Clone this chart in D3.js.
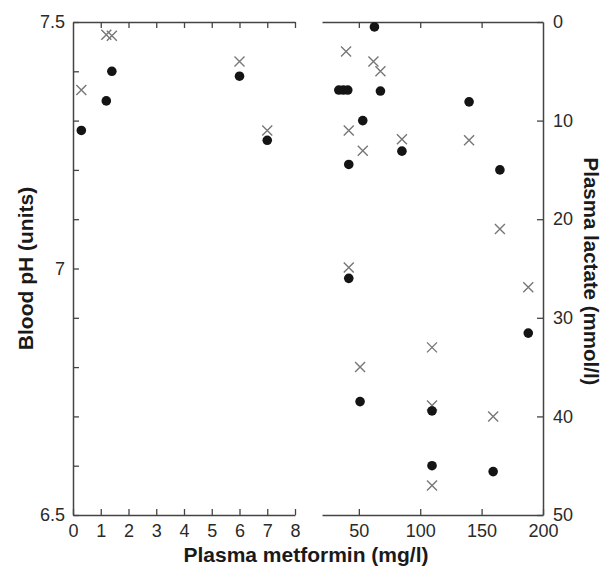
<!DOCTYPE html>
<html>
<head>
<meta charset="utf-8">
<script src="https://cdn.jsdelivr.net/npm/d3@7"></script>
<style>
  body { margin: 0; background: #fff; }
  svg { display: block; }
</style>
</head>
<body>
<script>
// left panel: low metformin (0-8 mg/l)
var leftMet = [0.3, 1.2, 1.4, 6.0, 7.0];
var leftPh = [7.28, 7.34, 7.40, 7.39, 7.26];
var leftLac = [6.9, 1.3, 1.4, 4.0, 11.0];

// right panel: high metformin (20-200 mg/l)
var rightMetPh = [62.7, 33.7, 37.4, 41.0, 67.6, 139.8, 53.2, 85.1, 41.8, 164.9, 41.8, 188, 51.0, 109.6, 109.6, 159.4];
var rightPh = [7.49, 7.362, 7.362, 7.362, 7.36, 7.338, 7.30, 7.238, 7.211, 7.20, 6.98, 6.869, 6.73, 6.711, 6.60, 6.588];
var rightMetLac = [39.6, 61.9, 67.6, 41.8, 85.1, 139.8, 53.2, 164.9, 41.8, 188, 109.6, 51.0, 109.6, 159.4, 109.6];
var rightLac = [3.0, 4.0, 5.0, 11.0, 11.9, 12.0, 13.05, 21.0, 24.9, 26.9, 33.0, 35.0, 38.9, 40.0, 47.0];

var leftTicks = [0, 1, 2, 3, 4, 5, 6, 7, 8];
var rightTicks = [50, 100, 150, 200];
var phTicks = d3.range(0, 11).map(function(i) { return 6.5 + i * 0.1; });
var lacTicks = [0, 10, 20, 30, 40, 50];

var width = 602, height = 566;
var yTop = 22, yBottom = 515;

var svg = d3.select("body").append("svg")
  .attr("width", width)
  .attr("height", height);

var xL = d3.scaleLinear().domain([0, 8]).range([73, 295]);
var xR = d3.scaleLinear().domain([20, 200]).range([322, 543]);
var yPh = d3.scaleLinear().domain([6.5, 7.5]).range([yBottom, yTop]);
var yLac = d3.scaleLinear().domain([0, 50]).range([yTop, yBottom]);

function styleAxis(g) {
  g.attr("font-family", "'Liberation Sans', Arial, sans-serif")
    .attr("font-size", 18);
  g.selectAll(".domain").attr("stroke", "#444").attr("stroke-width", 1.5);
  g.selectAll(".tick line").attr("stroke", "#444").attr("stroke-width", 1.3);
  g.selectAll(".tick text").attr("fill", "#2a2a2a");
}

function phLabel(d) {
  var r = Math.round(d * 10) / 10;
  if (r === 7) return "7";
  if (r === 6.5 || r === 7.5) return r.toFixed(1);
  return "";
}

// left panel axes
svg.append("g")
  .attr("transform", "translate(" + xL(0) + ",0)")
  .call(d3.axisLeft(yPh).tickValues(phTicks).tickFormat(phLabel)
    .tickSizeInner(-6).tickSizeOuter(0).tickPadding(8))
  .call(styleAxis);

svg.append("g")
  .attr("transform", "translate(0," + yBottom + ")")
  .call(d3.axisBottom(xL).tickValues(leftTicks).tickFormat(d3.format("d"))
    .tickSizeInner(-6).tickSizeOuter(0).tickPadding(9))
  .call(styleAxis);

svg.append("g")
  .attr("transform", "translate(0," + yTop + ")")
  .call(d3.axisTop(xL).tickValues(leftTicks.slice(1)).tickFormat("")
    .tickSizeInner(-6).tickSizeOuter(0))
  .call(styleAxis);

// right panel axes
svg.append("g")
  .attr("transform", "translate(" + xR(200) + ",0)")
  .call(d3.axisRight(yLac).tickValues(lacTicks).tickFormat(d3.format("d"))
    .tickSizeInner(-6).tickSizeOuter(0).tickPadding(10))
  .call(styleAxis);

svg.append("g")
  .attr("transform", "translate(0," + yBottom + ")")
  .call(d3.axisBottom(xR).tickValues(rightTicks).tickFormat(d3.format("d"))
    .tickSizeInner(-6).tickSizeOuter(0).tickPadding(9))
  .call(styleAxis);

svg.append("g")
  .attr("transform", "translate(0," + yTop + ")")
  .call(d3.axisTop(xR).tickValues(rightTicks.slice(0, 3)).tickFormat("")
    .tickSizeInner(-6).tickSizeOuter(0))
  .call(styleAxis);

// crosses = plasma lactate (right axis), dots = blood pH (left axis)
function drawCrosses(xs, ys, xScale) {
  var s = 5;
  var g = svg.append("g").attr("stroke", "#777").attr("stroke-width", 1.4);
  xs.forEach(function(v, i) {
    var cx = xScale(v), cy = yLac(ys[i]);
    g.append("path")
      .attr("d", "M" + (cx - s) + "," + (cy - s) + "L" + (cx + s) + "," + (cy + s) +
        "M" + (cx - s) + "," + (cy + s) + "L" + (cx + s) + "," + (cy - s));
  });
}

function drawDots(xs, ys, xScale) {
  svg.append("g").selectAll("circle")
    .data(xs)
    .enter().append("circle")
    .attr("cx", function(d) { return xScale(d); })
    .attr("cy", function(d, i) { return yPh(ys[i]); })
    .attr("r", 4.8)
    .attr("fill", "#141414");
}

drawCrosses(leftMet, leftLac, xL);
drawCrosses(rightMetLac, rightLac, xR);
drawDots(leftMet, leftPh, xL);
drawDots(rightMetPh, rightPh, xR);

// axis titles
var titleFont = "'Liberation Sans', Arial, sans-serif";

svg.append("text")
  .attr("transform", "translate(33," + (yTop + yBottom) / 2 + ") rotate(-90)")
  .attr("text-anchor", "middle")
  .attr("font-family", titleFont)
  .attr("font-size", 21)
  .attr("font-weight", "bold")
  .attr("fill", "#1a1a1a")
  .text("Blood pH (units)");

svg.append("text")
  .attr("transform", "translate(584," + ((yTop + yBottom) / 2 + 3) + ") rotate(90)")
  .attr("text-anchor", "middle")
  .attr("font-family", titleFont)
  .attr("font-size", 20.5)
  .attr("font-weight", "bold")
  .attr("fill", "#1a1a1a")
  .text("Plasma lactate (mmol/l)");

svg.append("text")
  .attr("x", 306)
  .attr("y", 562)
  .attr("text-anchor", "middle")
  .attr("font-family", titleFont)
  .attr("font-size", 21)
  .attr("font-weight", "bold")
  .attr("fill", "#1a1a1a")
  .text("Plasma metformin (mg/l)");
</script>
</body>
</html>
